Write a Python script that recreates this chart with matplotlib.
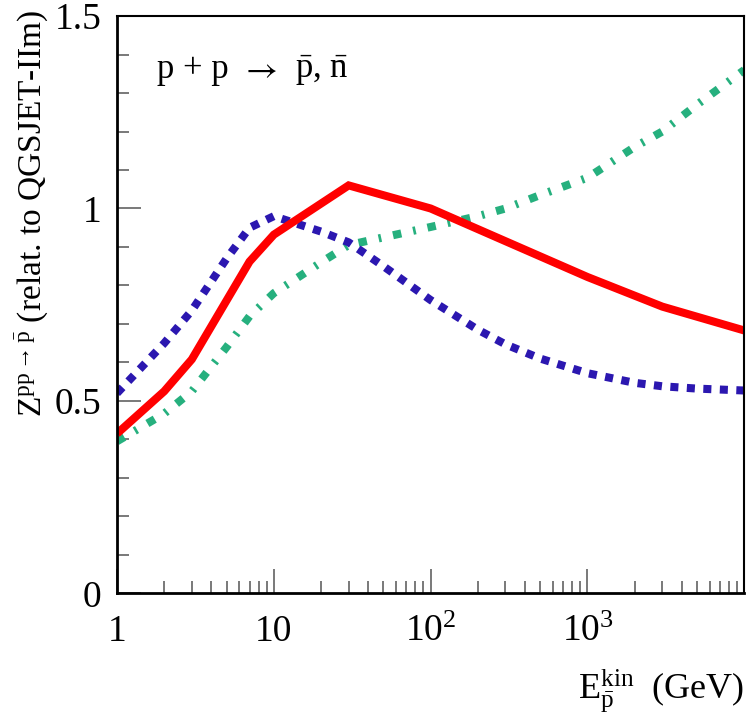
import math
import matplotlib
matplotlib.use("Agg")
import matplotlib.pyplot as plt
from matplotlib.ticker import FixedLocator, FuncFormatter, MultipleLocator, LogLocator, NullFormatter

plt.rcParams['font.family'] = ['Liberation Serif', 'DejaVu Serif']
plt.rcParams['mathtext.fontset'] = 'custom'
plt.rcParams['mathtext.rm'] = 'Liberation Serif'
plt.rcParams['mathtext.it'] = 'Liberation Serif:italic'
plt.rcParams['mathtext.bf'] = 'Liberation Serif:bold'

# ---- data ----
red_x = [1, 2, 3, 7, 10, 30, 100, 300, 1000, 3000, 10000]
red_y = [0.415, 0.525, 0.608, 0.862, 0.932, 1.060, 1.000, 0.915, 0.822, 0.745, 0.683]

blue_x = [1, 2, 3, 5, 7, 10, 20, 30, 50, 100, 200, 300, 500, 1000, 2000, 3000, 5000, 10000]
blue_y = [0.52, 0.65, 0.735, 0.87, 0.95, 0.98, 0.94, 0.912, 0.85, 0.762, 0.685, 0.647, 0.61, 0.572, 0.547, 0.538, 0.532, 0.527]

green_x = [1, 2, 3, 5, 7, 10, 20, 30, 50, 100, 200, 300, 500, 1000, 2000, 3000, 5000, 10000]
green_y = [0.395, 0.467, 0.525, 0.64, 0.72, 0.78, 0.86, 0.905, 0.925, 0.952, 0.98, 1.0, 1.035, 1.08, 1.16, 1.2, 1.27, 1.36]

x_major = [1, 10, 100, 1000]
y_major = [0, 0.5, 1.0, 1.5]

fig = plt.figure(figsize=(7.5, 7.14), dpi=100)
ax = fig.add_axes([0.156, 0.169, 0.8364, 0.8085])

lw = 5.8
ax.plot(green_x, green_y, color='#26b07e', lw=lw, dashes=(1.05, 1.5, 0.33, 1.5),
        dash_capstyle='butt', solid_capstyle='butt')
ax.plot(blue_x, blue_y, color='#2b17b0', lw=lw, dashes=(1.0, 1.05),
        dash_capstyle='butt')
ax.plot(red_x, red_y, color='#ff0000', lw=lw, solid_capstyle='butt', solid_joinstyle='miter')

ax.set_xscale('log')
ax.set_xlim(1, 1e4)
ax.set_ylim(0, 1.5)

def xfmt(v, pos):
    if v == 1:
        return '1'
    if v == 10:
        return '10'
    e = int(round(math.log10(v)))
    return r'$\mathrm{10}^{\mathrm{%d}}$' % e

ax.xaxis.set_major_locator(FixedLocator(x_major))
ax.xaxis.set_major_formatter(FuncFormatter(xfmt))
ax.xaxis.set_minor_locator(LogLocator(base=10, subs=range(2, 10), numticks=20))
ax.xaxis.set_minor_formatter(NullFormatter())

ax.yaxis.set_major_locator(FixedLocator(y_major))
ax.yaxis.set_major_formatter(FuncFormatter(lambda v, p: '%g' % v))
ax.yaxis.set_minor_locator(MultipleLocator(0.1))

ax.tick_params(which='both', direction='in', top=False, right=False, color='#555555', width=1.1)
ax.tick_params(which='major', length=17)
ax.tick_params(which='minor', length=8.5)
ax.tick_params(axis='x', which='major', labelsize=27, pad=15)
ax.tick_params(axis='y', which='major', labelsize=27, pad=11)

for s in ['left', 'bottom']:
    ax.spines[s].set_linewidth(2.0)
for s in ['top', 'right']:
    ax.spines[s].set_linewidth(1.5)

ax.set_ylabel(r'$\mathrm{Z}^{\mathrm{pp}\rightarrow\bar{\mathrm{p}}}$ (relat. to QGSJET-IIm)', fontsize=24)
ax.yaxis.set_label_coords(-0.107, 0.659)
ax.yaxis.label.set_verticalalignment('bottom')

ax.set_xlabel(r'$\mathrm{E}_{\bar{\mathrm{p}}}^{\mathrm{kin}}$  (GeV)', fontsize=26)
ax.xaxis.set_label_coords(1.0, -0.128)
ax.xaxis.label.set_horizontalalignment('right')

# reaction label, drawn in three pieces so the arrow gets a thin, wide glyph
ybase = 0.893
ax.text(0.064, ybase, 'p + p', transform=ax.transAxes, fontsize=25, ha='left', va='baseline')
ax.text(0.196, ybase, r'$\rightarrow$', transform=ax.transAxes, fontsize=25, ha='left', va='baseline',
        math_fontfamily='stix')
ax.text(0.284, ybase, r'$\bar{\mathrm{p}}$, $\bar{\mathrm{n}}$', transform=ax.transAxes,
        fontsize=25, ha='left', va='baseline')

fig.savefig('out.png', dpi=100)
